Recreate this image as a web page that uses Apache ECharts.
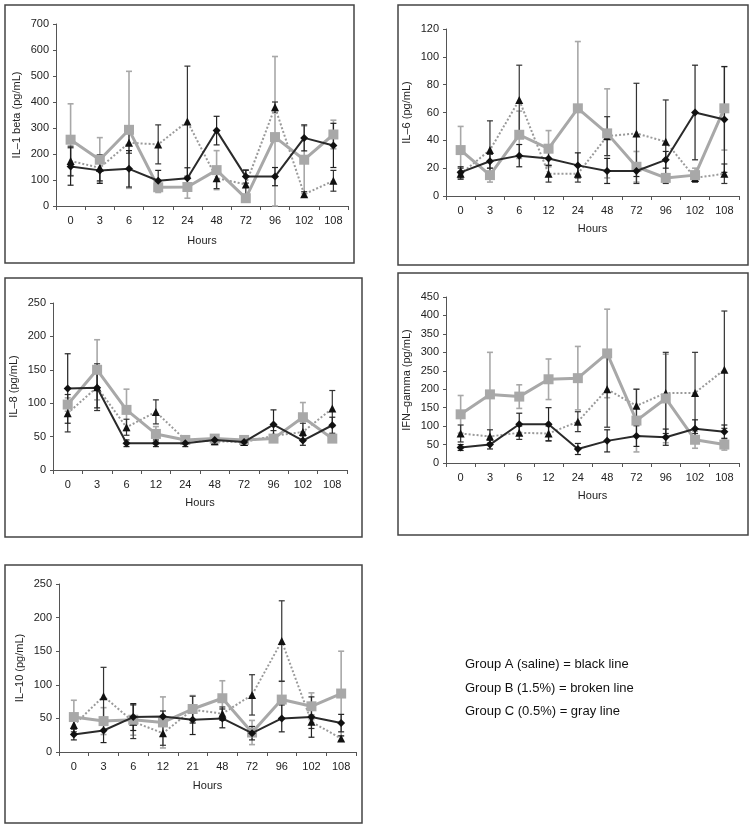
<!DOCTYPE html>
<html><head><meta charset="utf-8">
<script src="https://cdn.jsdelivr.net/npm/echarts@6/dist/echarts.min.js"></script>
<style>html,body{margin:0;padding:0;background:#fff}#c{width:756px;height:824px}</style>
</head><body><div id="c"></div>
<script>
// ---- categories ----
const hoursA = ['0','3','6','12','24','48','72','96','102','108'];
const hoursB = ['0','3','6','12','21','48','72','96','102','108'];

// ---- IL-1 beta ----
const il1_A = [152,137,143,97,107,290,113,113,262,233];
const il1_B = [173,147,243,237,325,107,83,380,45,97];
const il1_C = [255,178,293,72,73,138,30,265,178,275];
const il1_Asd = [72,50,70,40,40,55,25,35,50,85];
const il1_Bsd = [57,50,40,75,213,40,55,20,10,40];
const il1_Csd = [138,85,225,20,43,75,10,310,130,55];

// ---- IL-6 ----
const il6_A = [17,25,29,27,22,18,18,26,60,55];
const il6_B = [16,33,69,16,16,43,45,39,13,16];
const il6_C = [33,15,44,34,63,45,21,13,15,63];
const il6_Asd = [4,5,8,5,9,9,4,6,34,38];
const il6_Bsd = [4,21,25,6,6,14,36,30,3,7];
const il6_Csd = [17,5,17,13,48,32,11,3,5,30];

// ---- IL-8 ----
const il8_A = [122,123,40,40,40,45,42,68,44,67];
const il8_B = [85,124,64,87,45,43,42,51,57,92];
const il8_C = [98,150,90,54,45,47,45,47,79,47];
const il8_Asd = [52,30,5,5,5,5,5,22,7,12];
const il8_Bsd = [28,35,12,18,5,5,5,8,13,27];
const il8_Csd = [10,45,31,11,5,5,5,5,22,5];

// ---- IFN-gamma ----
const ifn_A = [42,50,105,105,38,60,73,70,93,85];
const ifn_B = [80,72,82,80,112,200,155,190,190,253];
const ifn_C = [132,186,180,227,230,297,115,175,63,50];
const ifn_Asd = [8,12,30,45,15,30,28,22,24,18];
const ifn_Bsd = [23,18,18,20,27,103,45,110,110,159];
const ifn_Csd = [51,114,32,55,86,120,85,120,23,15];

// ---- IL-10 ----
const il10_A = [26,32,52,53,48,50,28,50,52,43];
const il10_B = [40,83,45,28,63,57,85,165,45,20];
const il10_C = [52,46,48,44,64,80,29,78,68,87];
const il10_Asd = [8,18,20,8,22,14,10,20,30,13];
const il10_Bsd = [10,43,25,18,20,10,30,60,10,4];
const il10_Csd = [25,20,23,38,20,26,18,28,20,63];

// ---- axes ----
const yNames = ['IL\u20131 beta (pg/mL)','IL\u20136 (pg/mL)','IL\u20138 (pg/mL)','IFN\u2013gamma (pg/mL)','IL\u201310 (pg/mL)'];
const yMax = [700,120,250,450,250];
const yStep = [100,20,50,50,50];
const legendLines = ['Group A (saline) = black line','Group B (1.5%) = broken line','Group C (0.5%) = gray line'];

const panels = [
  {cats:hoursA, A:il1_A, B:il1_B, C:il1_C, Asd:il1_Asd, Bsd:il1_Bsd, Csd:il1_Csd},
  {cats:hoursA, A:il6_A, B:il6_B, C:il6_C, Asd:il6_Asd, Bsd:il6_Bsd, Csd:il6_Csd},
  {cats:hoursA, A:il8_A, B:il8_B, C:il8_C, Asd:il8_Asd, Bsd:il8_Bsd, Csd:il8_Csd},
  {cats:hoursA, A:ifn_A, B:ifn_B, C:ifn_C, Asd:ifn_Asd, Bsd:ifn_Bsd, Csd:ifn_Csd},
  {cats:hoursB, A:il10_A, B:il10_B, C:il10_C, Asd:il10_Asd, Bsd:il10_Bsd, Csd:il10_Csd}
];

// layout (pixels)
const grids = [
  {left:56, top:24, width:292, height:182},
  {left:446, top:29, width:293, height:167},
  {left:53, top:303, width:294, height:167},
  {left:446, top:297, width:293, height:166},
  {left:59, top:584, width:297, height:168}
];
const xNameGaps = [29,27,27,27,28];
const frames = [
  [5,5,349,258],[398,5,350,260],[5,278,357,259],[398,273,350,262],[5,565,357,258]
];

const FONT = '"Liberation Sans", Arial, sans-serif';
const axisCol = '#555';

function errData(mean, sd){
  return mean.map((m,i)=>[i, Math.max(0, m - sd[i]), m + sd[i]]);
}
function errRender(color, lw){
  return function(params, api){
    const x = api.value(0);
    const lo = api.coord([x, api.value(1)]);
    const hi = api.coord([x, api.value(2)]);
    const w = 3;
    const st = {stroke: color, lineWidth: lw};
    return {type:'group', children:[
      {type:'line', shape:{x1:lo[0],y1:lo[1],x2:hi[0],y2:hi[1]}, style:st},
      {type:'line', shape:{x1:lo[0]-w,y1:lo[1],x2:lo[0]+w,y2:lo[1]}, style:st},
      {type:'line', shape:{x1:hi[0]-w,y1:hi[1],x2:hi[0]+w,y2:hi[1]}, style:st}
    ]};
  };
}

const option = {
  animation:false,
  backgroundColor:'#fff',
  textStyle:{fontFamily:FONT},
  grid: grids.map(g=>Object.assign({containLabel:false}, g)),
  xAxis: panels.map((p,i)=>({
    type:'category', gridIndex:i, data:p.cats, boundaryGap:true,
    name:'Hours', nameLocation:'middle', nameGap:xNameGaps[i],
    nameTextStyle:{fontSize:11, color:'#222', fontFamily:FONT},
    axisLine:{lineStyle:{color:axisCol, width:1}},
    axisTick:{show:true, length:4, lineStyle:{color:axisCol}},
    axisLabel:{fontSize:11, color:'#222', margin:9, fontFamily:FONT, interval:0},
    splitLine:{show:false}
  })),
  yAxis: panels.map((p,i)=>({
    type:'value', gridIndex:i, min:0, max:yMax[i], interval:yStep[i],
    name:yNames[i], nameLocation:'middle', nameGap:34, nameRotate:90,
    nameTextStyle:{fontSize:11, color:'#222', fontFamily:FONT},
    axisLine:{show:true, lineStyle:{color:axisCol, width:1}},
    axisTick:{show:true, length:3, lineStyle:{color:axisCol}},
    axisLabel:{fontSize:11, color:'#222', margin:7, fontFamily:FONT},
    splitLine:{show:false}
  })),
  series: [],
  graphic: []
};

panels.forEach((p,i)=>{
  // error bars
  option.series.push({type:'custom', xAxisIndex:i, yAxisIndex:i, renderItem:errRender('#a8a8a8', 1.6), data:errData(p.C,p.Csd), z:2, encode:{x:0,y:[1,2]}});
  option.series.push({type:'custom', xAxisIndex:i, yAxisIndex:i, renderItem:errRender('#333333', 1.2), data:errData(p.B,p.Bsd), z:2, encode:{x:0,y:[1,2]}});
  option.series.push({type:'custom', xAxisIndex:i, yAxisIndex:i, renderItem:errRender('#222222', 1.2), data:errData(p.A,p.Asd), z:2, encode:{x:0,y:[1,2]}});
  // lines
  option.series.push({type:'line', name:'Group B', xAxisIndex:i, yAxisIndex:i, data:p.B, z:3,
    lineStyle:{color:'#9a9a9a', width:2, type:'dotted'}, symbol:'triangle', symbolSize:8,
    itemStyle:{color:'#111'}});
  option.series.push({type:'line', name:'Group C', xAxisIndex:i, yAxisIndex:i, data:p.C, z:4,
    lineStyle:{color:'#a8a8a8', width:3}, symbol:'rect', symbolSize:10,
    itemStyle:{color:'#a8a8a8'}});
  option.series.push({type:'line', name:'Group A', xAxisIndex:i, yAxisIndex:i, data:p.A, z:5,
    lineStyle:{color:'#2a2a2a', width:2}, symbol:'diamond', symbolSize:8,
    itemStyle:{color:'#111'}});
  const f = frames[i];
  option.graphic.push({type:'rect', shape:{x:f[0], y:f[1], width:f[2], height:f[3]},
    style:{fill:'none', stroke:'#444', lineWidth:1.5}, silent:true, z:-1});
});
legendLines.forEach((t,k)=>{
  option.graphic.push({type:'text', left:465, top:658 + k*23.5,
    style:{text:t, font:'13px ' + FONT, fill:'#111'}});
});

const chart = echarts.init(document.getElementById('c'), null, {renderer:'canvas'});
chart.setOption(option);
</script>
</body></html>
